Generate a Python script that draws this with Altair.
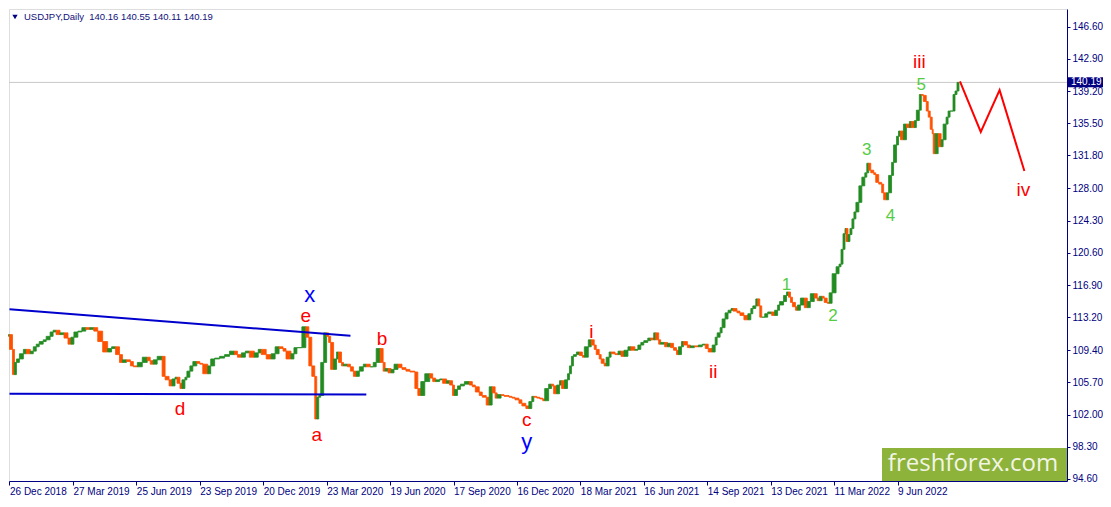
import altair as alt
import pandas as pd
import numpy as np

# ---- data (bar number = trading day since 26 Dec 2018) ----
bar_no = [
    1, 4, 6, 8, 11, 15, 18, 22, 25, 28,
    31, 35, 38, 42, 45, 48, 52, 56, 60, 63,
    66, 70, 74, 78, 82, 86, 90, 95, 100, 104,
    108, 112, 115, 119, 123, 126, 130, 135, 140, 143,
    146, 150, 155, 158, 162, 165, 168, 170, 173, 175,
    178, 180, 183, 186, 190, 193, 196, 201, 204, 208,
    213, 218, 223, 228, 231, 235, 239, 243, 248, 252,
    255, 260, 265, 269, 273, 277, 280, 285, 288, 291,
    296, 300, 303, 306, 309, 311, 313, 315, 318, 321,
    323, 325, 328, 331, 333, 336, 338, 342, 345, 348,
    351, 354, 358, 361, 365, 368, 371, 375, 378, 380,
    383, 386, 389, 393, 397, 401, 405, 410, 413, 416,
    420, 425, 428, 431, 435, 438, 442, 445, 448, 450,
    453, 456, 460, 465, 468, 471, 475, 478, 482, 485,
    488, 491, 493, 497, 500, 505, 508, 511, 515, 518,
    522, 525, 528, 530, 533, 536, 539, 541, 545, 548,
    550, 553, 556, 558, 561, 564, 566, 568, 570, 573,
    576, 579, 581, 585, 588, 591, 593, 596, 598, 601,
    603, 606, 608, 612, 615, 618, 621, 625, 628, 632,
    635, 638, 641, 645, 648, 651, 653, 656, 658, 662,
    665, 668, 671, 674, 676, 679, 681, 685, 688, 692,
    696, 700, 703, 706, 710, 713, 715, 718, 720, 723,
    726, 729, 731, 735, 738, 742, 746, 749, 751, 754,
    756, 758, 760, 763, 766, 770, 773, 776, 778, 782,
    785, 787, 789, 791, 794, 796, 799, 803, 806, 809,
    813, 816, 818, 821, 823, 826, 828, 831, 835, 838,
    840, 842, 844, 845, 847, 849, 851, 853, 855, 858,
    861, 864, 866, 868, 870, 873, 875, 878, 881, 883,
    886, 888, 891, 893, 896, 898, 900, 903, 906, 909,
    911, 914, 916, 919, 921, 923, 926, 928, 930, 932,
    933, 935, 938, 941, 943, 946, 948, 950, 953, 955,
    957, 959,
]
close = [
    111.2, 109.5, 106.6, 108.0, 108.4, 109.0, 109.5, 109.0, 109.3, 109.8,
    110.1, 110.4, 110.6, 111.0, 111.5, 111.7, 111.2, 111.4, 110.8, 110.1,
    110.9, 111.5, 111.6, 112.0, 111.8, 112.0, 111.6, 110.4, 109.2, 109.6,
    109.8, 108.9, 108.0, 108.3, 108.1, 107.6, 107.5, 108.0, 108.6, 108.2,
    107.8, 108.3, 108.7, 106.4, 106.0, 105.3, 106.1, 106.3, 105.6, 105.0,
    106.0, 106.3, 107.0, 107.6, 108.1, 107.9, 107.8, 106.7, 107.6, 108.4,
    108.5, 108.7, 108.9, 109.3, 108.9, 108.6, 109.1, 109.3, 108.6, 109.1,
    109.5, 108.9, 108.4, 109.0, 109.8, 109.6, 109.3, 108.4, 109.0, 109.7,
    109.7, 112.1, 110.9, 107.6, 106.4, 101.5, 104.0, 104.2, 108.0, 111.4,
    111.0, 110.3, 107.2, 108.4, 109.2, 108.0, 107.6, 107.8, 107.5, 107.0,
    106.4, 107.0, 107.5, 107.8, 107.5, 107.5, 108.0, 109.6, 108.0, 107.0,
    107.3, 106.8, 107.2, 107.8, 107.4, 107.2, 107.0, 106.9, 105.0, 104.2,
    105.8, 106.7, 106.2, 105.8, 106.0, 106.1, 105.6, 105.9, 105.4, 104.2,
    104.9, 105.3, 105.5, 105.8, 105.4, 105.2, 104.6, 104.2, 104.0, 103.1,
    105.2, 104.5, 103.9, 104.3, 104.2, 104.1, 104.0, 103.9, 103.7, 103.3,
    103.0, 102.7, 103.5, 104.1, 104.0, 103.9, 103.8, 103.6, 105.0, 105.5,
    105.3, 104.4, 105.4, 105.9, 105.0, 106.0, 106.7, 107.6, 108.7, 108.9,
    109.2, 108.8, 108.6, 109.8, 110.6, 110.0, 109.5, 108.9, 108.4, 107.9,
    107.6, 108.6, 109.2, 109.0, 108.9, 109.3, 108.7, 109.4, 109.8, 109.4,
    109.5, 110.0, 110.3, 110.5, 110.8, 110.6, 111.4, 110.6, 110.1, 110.3,
    109.8, 110.2, 109.7, 109.4, 108.9, 109.8, 110.4, 110.0, 109.7, 109.9,
    109.8, 110.0, 110.1, 109.6, 109.2, 110.0, 110.9, 111.4, 112.0, 113.0,
    113.7, 114.0, 114.2, 113.9, 113.7, 113.4, 112.9, 113.6, 114.2, 114.5,
    115.3, 114.5, 113.2, 113.2, 113.6, 113.8, 113.4, 114.0, 114.6, 115.0,
    115.7, 116.1, 115.5, 114.9, 114.4, 114.0, 114.6, 115.4, 114.3, 115.0,
    115.9, 115.4, 115.1, 115.6, 115.4, 114.9, 114.8, 116.0, 118.2, 119.0,
    119.3, 121.0, 122.8, 123.4, 121.9, 122.7, 123.4, 124.5, 125.3, 126.4,
    128.3, 129.3, 129.8, 130.9, 130.1, 129.8, 129.6, 128.7, 128.5, 127.5,
    126.7, 127.5, 129.5, 131.0, 133.0, 134.0, 134.6, 133.6, 135.4, 135.0,
    135.7, 135.0, 135.8, 137.0, 138.8, 138.7, 138.0, 136.9, 136.2, 134.8,
    134.3, 132.0, 134.3, 132.8, 133.6, 135.4, 136.2, 136.9, 136.9, 138.8,
    139.2, 140.19,
]
first_open = 111.0
last_price = 140.19

tick_bars = [1, 65, 129, 193, 257, 321, 385, 449, 513, 577, 641, 705, 769, 833, 897]
tick_labels = ["26 Dec 2018", "27 Mar 2019", "25 Jun 2019", "23 Sep 2019", "20 Dec 2019",
               "23 Mar 2020", "19 Jun 2020", "17 Sep 2020", "16 Dec 2020", "18 Mar 2021",
               "16 Jun 2021", "14 Sep 2021", "13 Dec 2021", "11 Mar 2022", "9 Jun 2022"]
price_ticks = [94.60, 98.30, 102.00, 105.70, 109.40, 113.20, 116.90, 120.60,
               124.30, 128.00, 131.80, 135.50, 139.20, 142.90, 146.60]

trend_name = ["upper", "upper", "lower", "lower"]
trend_bar = [1, 345, 1, 361]
trend_price = [114.1, 111.07, 104.41, 104.3]

fc_bar = [960, 981, 1000, 1025]
fc_price = [140.3, 134.5, 139.3, 130.0]

wave_text = ["x", "e", "a", "b", "d", "c", "y", "i", "ii", "iii", "1", "2", "3", "4", "5", "iv"]
wave_bar = [304, 300, 311, 377, 173, 523, 523, 588, 711, 919, 785, 832, 866, 890, 921, 1024]
wave_price = [114.90, 112.65, 99.00, 110.05, 101.93, 100.75, 98.10, 110.84, 106.22,
              141.86, 116.34, 112.80, 131.86, 124.23, 139.30, 127.17]
wave_kind = ["blue", "red", "red", "red", "red", "red", "blue", "red", "red", "red",
             "green", "green", "green", "green", "green", "red"]

# ---- styling ----
NAVY = "#000080"
UP = "#228b22"
DOWN = "#ff5000"
kind_color = {"blue": "#0000ff", "red": "#ff0000", "green": "#55cc44"}
kind_size = {"blue": 22, "red": 19, "green": 17}

W, H = 1058, 472

df = pd.DataFrame({"bar": bar_no, "close": close})
df["open"] = df["close"].shift(1).fillna(first_open)
df["start"] = df["bar"].shift(1).fillna(df["bar"].iloc[0] - 1)
df["dir"] = np.where(df["close"] >= df["open"], "up", "down")

xscale = alt.Scale(domain=[0.5, 1068], nice=False, zero=False)
yscale = alt.Scale(domain=[94.37, 148.63], nice=False, zero=False)

vals_js = "[" + ",".join(str(v) for v in tick_bars) + "]"
labs_js = "[" + ",".join("'" + t + "'" for t in tick_labels) + "]"
label_expr = labs_js + "[indexof(" + vals_js + ", datum.value)]"

xaxis = alt.Axis(values=tick_bars, labelExpr=label_expr, orient="bottom", grid=False,
                 domainColor=NAVY, tickColor=NAVY, tickSize=4, labelAlign="left",
                 labelPadding=1, labelFont="Liberation Sans", labelFontSize=10,
                 labelColor=NAVY, labelOverlap=False, labelFlush=False, title=None)
yaxis = alt.Axis(values=price_ticks, format=".2f", orient="right", grid=False,
                 domainColor=NAVY, tickColor=NAVY, tickSize=3, labelPadding=2,
                 labelFont="Liberation Sans", labelFontSize=10, labelColor=NAVY,
                 labelOverlap=False, labelFlush=False, labelBound=False, title=None)


def X(field):
    return alt.X(field, scale=xscale, axis=xaxis)


def Y(field):
    return alt.Y(field, scale=yscale, axis=yaxis)


def Yd(value):
    return alt.Y(datum=value, scale=yscale, axis=yaxis)


dir_scale = alt.Scale(domain=["up", "down"], range=[UP, DOWN])

price_line = alt.Chart(pd.DataFrame({"p": [last_price]})).mark_rule(
    color="#c8c8c8", strokeWidth=1).encode(y=Y("p:Q"))

candles = alt.Chart(df).mark_rect(strokeWidth=0.8).encode(
    x=X("start:Q"),
    x2="bar:Q",
    y=Y("open:Q"),
    y2="close:Q",
    fill=alt.Fill("dir:N", scale=dir_scale, legend=None),
    stroke=alt.Stroke("dir:N", scale=dir_scale, legend=None),
)

trend_df = pd.DataFrame({"name": trend_name, "bar": trend_bar, "price": trend_price})
trends = alt.Chart(trend_df).mark_line(color="#0000cd", strokeWidth=2).encode(
    x=X("bar:Q"), y=Y("price:Q"), detail="name:N")

fc_df = pd.DataFrame({"bar": fc_bar, "price": fc_price})
forecast = alt.Chart(fc_df).mark_line(color="#ff0000", strokeWidth=2).encode(
    x=X("bar:Q"), y=Y("price:Q"))

wave_df = pd.DataFrame({"t": wave_text, "bar": wave_bar, "price": wave_price,
                        "col": [kind_color[k] for k in wave_kind],
                        "fs": [kind_size[k] for k in wave_kind]})
waves = alt.Chart(wave_df).mark_text(font="Liberation Sans", baseline="alphabetic",
                                     align="center").encode(
    x=X("bar:Q"), y=Y("price:Q"),
    text="t:N", color=alt.Color("col:N", scale=None), size=alt.Size("fs:Q", scale=None))

one = pd.DataFrame({"k": [0]})
tag_rect = alt.Chart(one).mark_rect(color=NAVY).encode(
    x=alt.value(W), x2=alt.value(W + 36),
    y=Yd(last_price + 0.6), y2=alt.Y2(datum=last_price - 0.55))
tag_text = alt.Chart(one).mark_text(color="white", font="Liberation Sans", fontSize=10,
                                    align="left", baseline="middle").encode(
    x=alt.value(W + 4), y=Yd(last_price),
    text=alt.value(f"{last_price:.2f}"))

wm_rect = alt.Chart(one).mark_rect(color="#8db33a").encode(
    x=alt.value(873), x2=alt.value(W), y=alt.value(439), y2=alt.value(H))
wm_text = alt.Chart(one).mark_text(color="#f2f5e6", font="Open Sans", fontSize=24,
                                   align="center", baseline="middle").encode(
    x=alt.value(964), y=alt.value(455), text=alt.value("freshforex.com"))

header_tri = alt.Chart(one).mark_point(shape="triangle-down", filled=True, color=NAVY,
                                       size=28, opacity=1).encode(
    x=alt.value(6), y=alt.value(8))
header_txt = alt.Chart(one).mark_text(color="#10107a", font="Liberation Sans", fontSize=9.5,
                                      align="left", baseline="middle").encode(
    x=alt.value(15), y=alt.value(8),
    text=alt.value("USDJPY,Daily\u00a0\u00a0140.16 140.55 140.11 140.19"))

chart = alt.layer(
    price_line, candles, trends, forecast, waves, tag_rect, tag_text,
    wm_rect, wm_text, header_tri, header_txt,
).properties(
    width=W, height=H, autosize="none",
    padding={"left": 1, "top": 1, "right": 36, "bottom": 18},
).configure_view(stroke=NAVY, strokeWidth=1).configure(background="white")

chart.save("out.html", embed_options={"renderer": "svg", "actions": False})
